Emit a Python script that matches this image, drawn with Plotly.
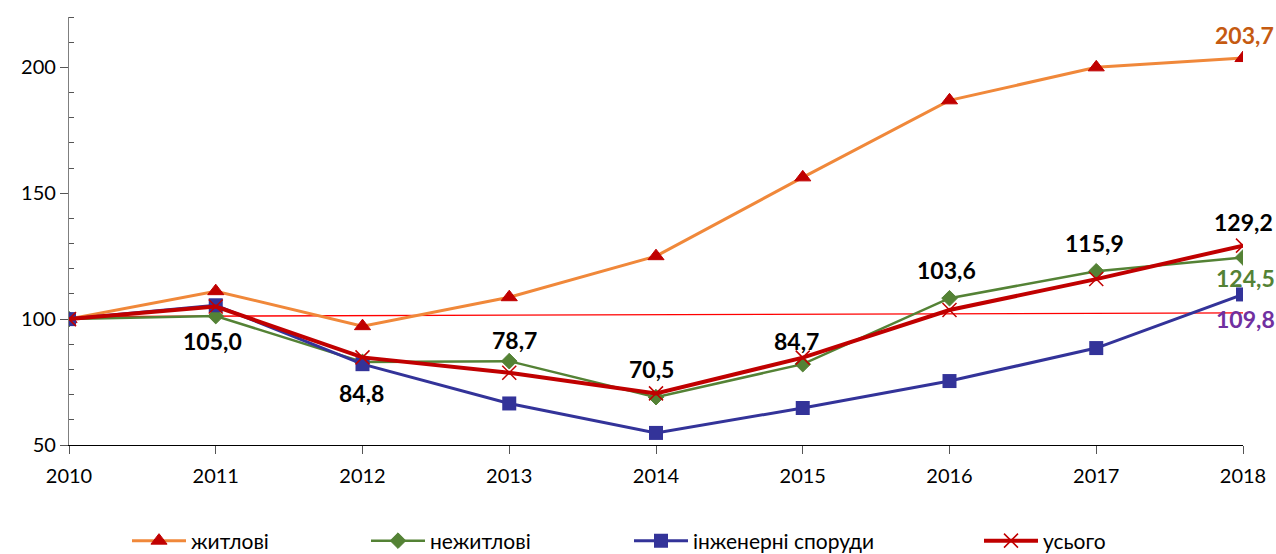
import plotly.graph_objects as go

years = [2010, 2011, 2012, 2013, 2014, 2015, 2016, 2017, 2018]
residential = [100, 111.1, 97.2, 108.7, 125.0, 156.3, 186.9, 200.0, 203.7]
nonresidential = [100, 101.2, 83.0, 83.3, 69.0, 82.1, 108.3, 119.0, 124.5]
engineering = [100, 105.5, 82.1, 66.5, 54.8, 64.7, 75.4, 88.5, 109.8]
total = [100, 105.0, 84.8, 78.7, 70.5, 84.7, 103.6, 115.9, 129.2]
ref_x = [2010, 2018]
ref_y = [101.0, 102.5]

names = ["житлові", "нежитлові", "інженерні споруди", "усього"]

def fmt(v):
    return f"{v:.1f}".replace(".", ",")

FONT = "Lato"
W, H = 1276, 554
fig = go.Figure()

fig.add_trace(go.Scatter(x=ref_x, y=ref_y, mode="lines",
                         line=dict(color="#FF0000", width=1.3),
                         showlegend=False, hoverinfo="skip"))

fig.add_trace(go.Scatter(x=years, y=residential, name=names[0], mode="lines+markers",
                         legend="legend",
                         line=dict(color="#F0883A", width=3),
                         marker=dict(symbol="triangle-up", size=14, color="#C00000",
                                     line=dict(color="#C00000", width=1))))
fig.add_trace(go.Scatter(x=years, y=nonresidential, name=names[1], mode="lines+markers",
                         legend="legend2",
                         line=dict(color="#548235", width=2.5),
                         marker=dict(symbol="diamond", size=12, color="#548235",
                                     line=dict(color="#548235", width=1))))
fig.add_trace(go.Scatter(x=years, y=engineering, name=names[2], mode="lines+markers",
                         legend="legend3",
                         line=dict(color="#333399", width=3),
                         marker=dict(symbol="square", size=14, color="#333399")))
fig.add_trace(go.Scatter(x=years, y=total, name=names[3], mode="lines+markers",
                         legend="legend4",
                         line=dict(color="#C00000", width=4),
                         marker=dict(symbol="x-thin", size=14, color="#C00000",
                                     line=dict(color="#C00000", width=1.5))))

# data labels for total: (yshift, xshift)
total_shift = [None, (-34, -3), (-36, -1), (33, 5), (24, -5), (17, -6), (40, -3), (36, -2), (24, 0)]
for x, v, s in zip(years, total, total_shift):
    if s is None:
        continue
    fig.add_annotation(x=x, y=v, text=f"<b>{fmt(v)}</b>", showarrow=False,
                       yshift=s[0], xshift=s[1],
                       font=dict(family=FONT, size=23, color="#000000"))

fig.add_annotation(x=years[-1], y=residential[-1], text=f"<b>{fmt(residential[-1])}</b>",
                   showarrow=False, yshift=23, xshift=1,
                   font=dict(family=FONT, size=23, color="#C55A11"))
fig.add_annotation(x=years[-1], y=nonresidential[-1], text=f"<b>{fmt(nonresidential[-1])}</b>",
                   showarrow=False, yshift=-21, xshift=2,
                   font=dict(family=FONT, size=23, color="#548235"))
fig.add_annotation(x=years[-1], y=engineering[-1], text=f"<b>{fmt(engineering[-1])}</b>",
                   showarrow=False, yshift=-25, xshift=2,
                   font=dict(family=FONT, size=23, color="#7030A0"))

leg_common = dict(orientation="h", xref="container", yref="container",
                  yanchor="middle", y=(H - 541) / H, xanchor="left",
                  font=dict(family=FONT, size=21, color="#000000"),
                  itemwidth=54, bgcolor="rgba(0,0,0,0)")
leg_x = [127, 366, 629, 979]

fig.update_layout(
    width=W, height=H,
    paper_bgcolor="white", plot_bgcolor="white",
    margin=dict(l=69, r=33, t=17, b=109, autoexpand=False),
    font=dict(family=FONT, size=20, color="#000000"),
    showlegend=True,
    legend=dict(leg_common, x=leg_x[0] / W),
    legend2=dict(leg_common, x=leg_x[1] / W),
    legend3=dict(leg_common, x=leg_x[2] / W),
    legend4=dict(leg_common, x=leg_x[3] / W),
)
fig.update_xaxes(range=[2010, 2018], tickmode="array", tickvals=years,
                 ticktext=[str(y) for y in years], showgrid=False, zeroline=False,
                 showline=True, linecolor="#000000", linewidth=1.3,
                 ticks="outside", ticklen=8, tickcolor="#555555", automargin=False,
                 ticklabelstandoff=5,
                 tickfont=dict(family=FONT, size=20))
fig.update_yaxes(range=[50, 220], tickmode="array", tickvals=[50, 100, 150, 200],
                 showgrid=False, zeroline=False, showline=True, automargin=False,
                 linecolor="#7F7F7F", linewidth=1.3,
                 ticks="outside", ticklen=8, tickcolor="#555555",
                 tickfont=dict(family=FONT, size=20),
                 minor=dict(tickvals=[60, 70, 80, 90, 110, 120, 130, 140, 160, 170, 180, 190, 210, 220],
                            ticks="inside", ticklen=5, tickcolor="#555555"))

fig.write_html("out.html", config={"displayModeBar": False},
               post_script="document.body.style.margin='0';document.body.style.overflow='hidden';")
